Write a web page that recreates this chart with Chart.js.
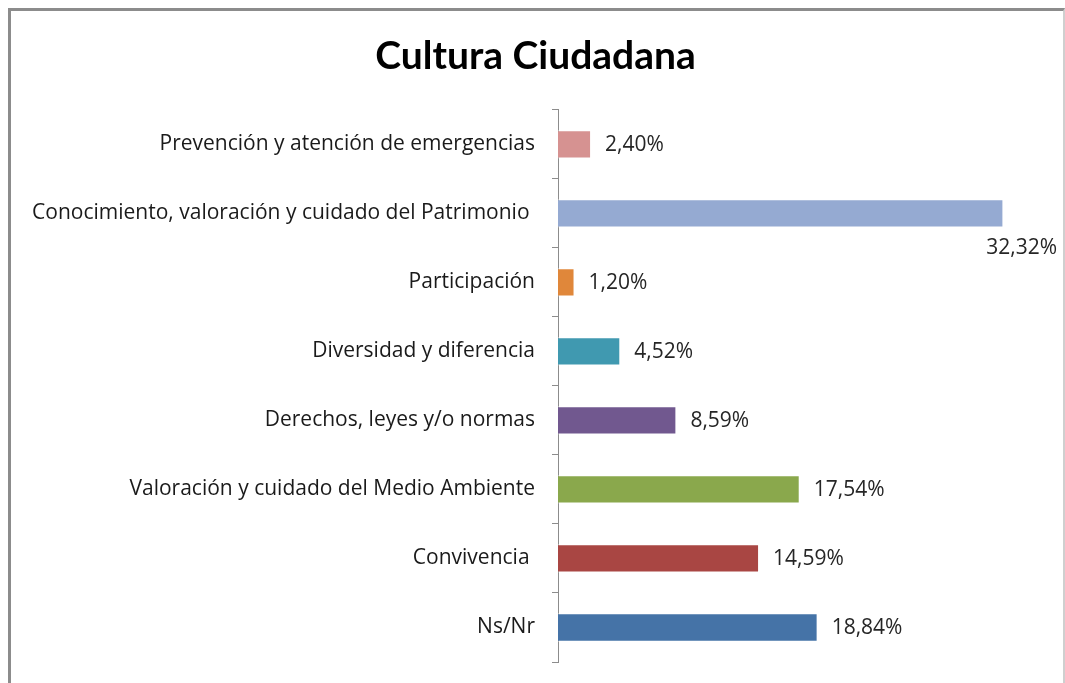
<!DOCTYPE html>
<html>
<head>
<meta charset="utf-8">
<script src="https://cdn.jsdelivr.net/npm/chart.js@4"></script>
<style>
  html, body { margin: 0; padding: 0; background: #fff; }
  #wrap { position: relative; width: 1065px; height: 683px; overflow: hidden; }
  #frame {
    position: absolute; left: 8px; top: 8px; width: 1052px; height: 700px;
    border-left: 3px solid #8c8c8c; border-top: 3px solid #8c8c8c; border-right: 2px solid #cfcfcf;
    pointer-events: none;
  }
</style>
</head>
<body>
<div id="wrap">
  <canvas id="myChart" width="1065" height="683"></canvas>
  <div id="frame"></div>
</div>
<script>
const categories = [
  'Prevención y atención de emergencias',
  'Conocimiento, valoración y cuidado del Patrimonio ',
  'Participación',
  'Diversidad y diferencia',
  'Derechos, leyes y/o normas',
  'Valoración y cuidado del Medio Ambiente',
  'Convivencia ',
  'Ns/Nr'
];
const values = [2.40, 32.32, 1.20, 4.52, 8.59, 17.54, 14.59, 18.84];
const barColors = ['#d69291', '#95aad2', '#e0873a', '#4099b0', '#71588f', '#8aa84c', '#a94643', '#4573a7'];

const labelFont = '"Open Sans", sans-serif';
const titleFont = 'Lato, sans-serif';

// percent labels next to the bars
const valueLabels = {
  id: 'valueLabels',
  afterDatasetsDraw(chart) {
    const c = chart.ctx;
    const meta = chart.getDatasetMeta(0);
    c.save();
    c.font = '21px ' + labelFont;
    c.fillStyle = '#262626';
    meta.data.forEach((bar, i) => {
      const txt = values[i].toFixed(2).replace('.', ',') + '%';
      const w = c.measureText(txt).width;
      c.textBaseline = 'middle';
      if (bar.x + 14 + w > chart.width - 8) {
        c.textAlign = 'right';
        c.fillText(txt, chart.width - 8, bar.y + 35);
      } else {
        c.textAlign = 'left';
        c.fillText(txt, bar.x + 14, bar.y + 1);
      }
    });
    c.restore();
  }
};

const ctx = document.getElementById('myChart').getContext('2d');
const myChart = new Chart(ctx, {
  type: 'bar',
  data: {
    labels: categories,
    datasets: [{
      data: values,
      backgroundColor: barColors,
      borderColor: 'rgba(255,255,255,0.6)',
      borderWidth: 1,
      barPercentage: 0.41,
      categoryPercentage: 1
    }]
  },
  options: {
    indexAxis: 'y',
    responsive: false,
    animation: false,
    layout: { padding: { left: 10, right: 4, top: 0, bottom: 21 } },
    plugins: {
      legend: { display: false },
      tooltip: { enabled: false },
      title: {
        display: true,
        text: 'Cultura Ciudadana',
        color: '#000',
        font: { family: titleFont, size: 39, weight: 'bold' },
        padding: { top: 33, bottom: 30 }
      }
    },
    scales: {
      x: { display: false, min: 0, max: 36.5 },
      y: {
        afterFit: s => { s.width = 548; s.paddingTop = 0; s.paddingBottom = 0; },
        border: { display: true, color: '#8c8c8c', width: 1 },
        grid: { drawOnChartArea: false, tickLength: 6, color: '#8c8c8c' },
        ticks: { color: '#1a1a1a', padding: 17, font: { family: labelFont, size: 21 } }
      }
    }
  },
  plugins: [valueLabels]
});
</script>
</body>
</html>
